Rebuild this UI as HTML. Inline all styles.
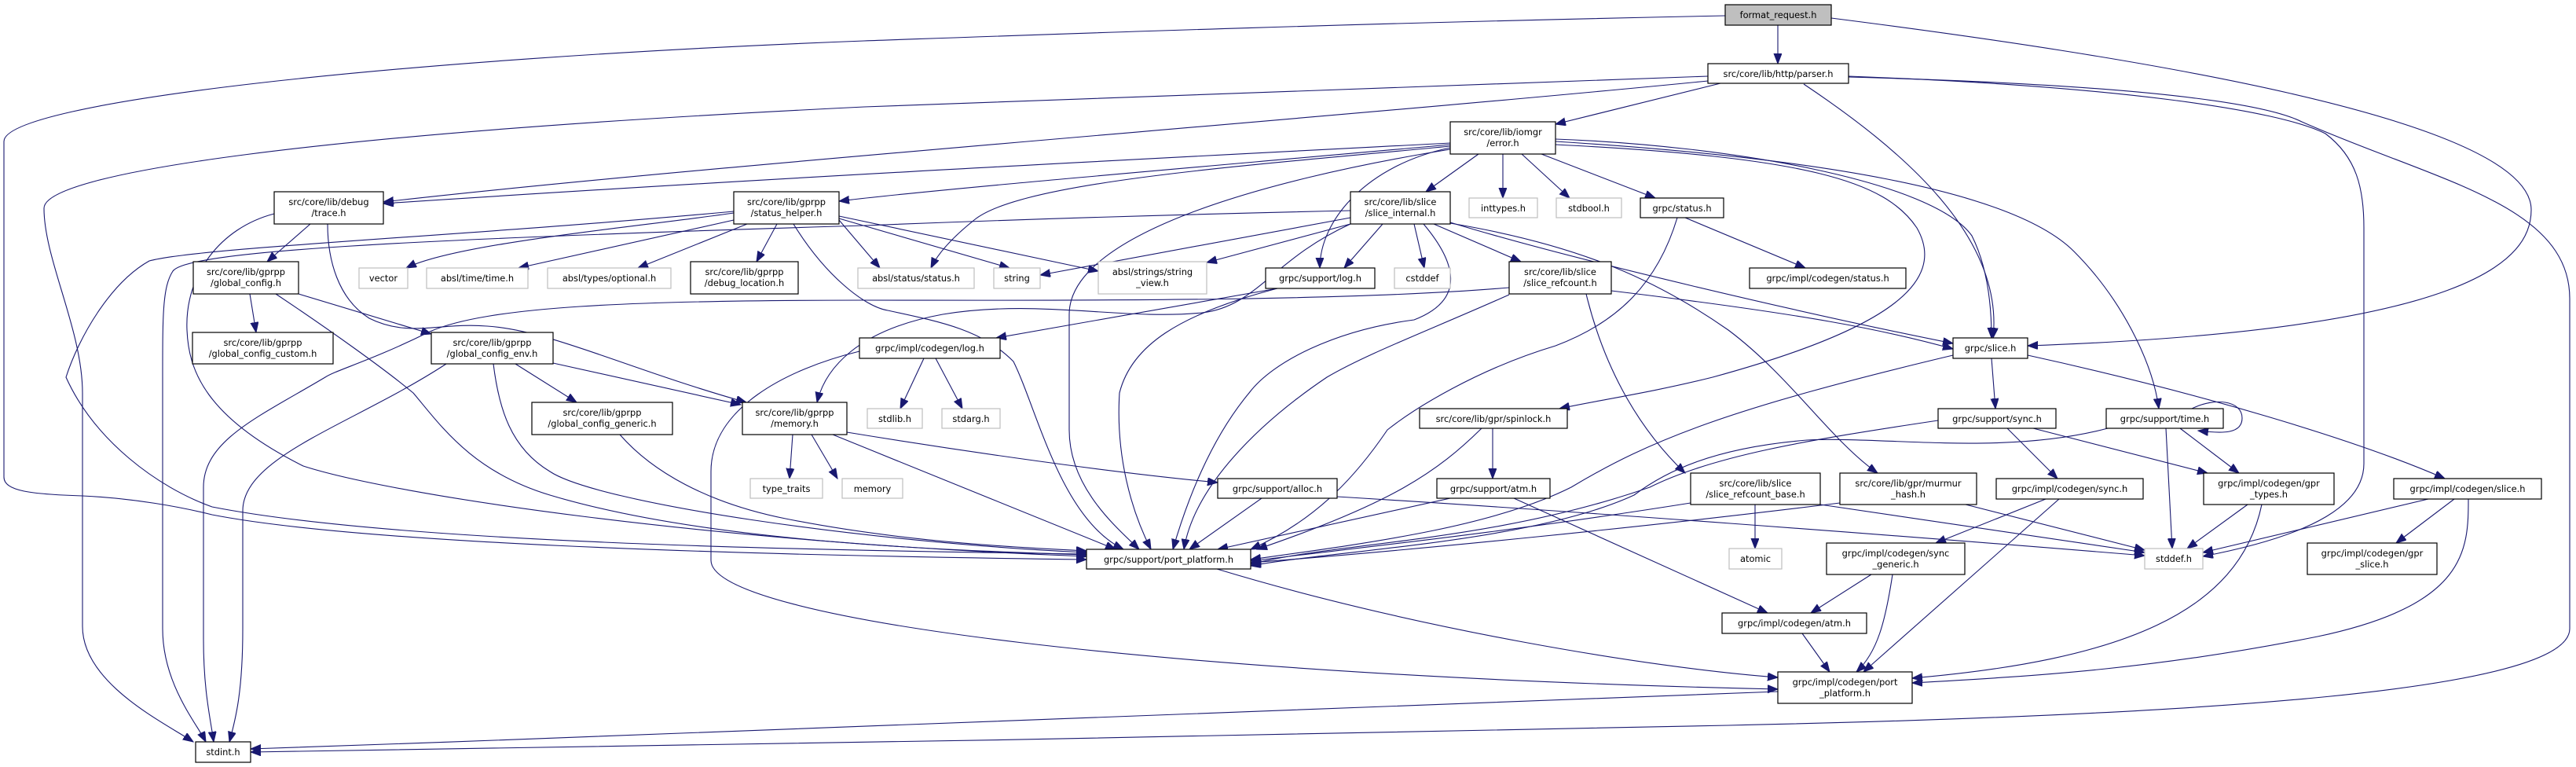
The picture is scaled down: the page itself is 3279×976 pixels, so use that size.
<!DOCTYPE html>
<html><head><meta charset="utf-8"><style>
html,body{margin:0;padding:0;background:#fff;}
svg{display:block;}
text{font-family:"DejaVu Sans","Liberation Sans",sans-serif;font-size:11.4px;fill:#000;text-anchor:middle;}
.n{fill:#fff;stroke:#000;stroke-width:1.2;}
.g{fill:#fff;stroke:#bfbfbf;stroke-width:1.2;}
.e{fill:none;stroke:#191970;stroke-width:1.1;marker-end:url(#a);}
</style></head><body>
<svg width="3279" height="976" viewBox="0 0 3279 976" xmlns="http://www.w3.org/2000/svg">
<defs><marker id="a" markerUnits="userSpaceOnUse" markerWidth="14" markerHeight="11" refX="13" refY="5" orient="auto"><path d="M0,0 L13,5 L0,10 Z" fill="#191970" stroke="#191970"/></marker></defs>
<g>
<path class="e" d="M2263,32 L2263,81"/>
<path class="e" d="M2196,20 C1700,30 1300,45 1100,52 C500,75 5,130 5,180 L5,607 C5,625 40,629 105,631 C170,634 230,645 270,655 C450,690 900,706 1383,712"/>
<path class="e" d="M2331,23 C2700,70 3222,150 3222,267 C3222,330 3150,420 2581,440"/>
<path class="e" d="M2190,106 L1980,158"/>
<path class="e" d="M2174,103 C1700,150 900,210 488,257"/>
<path class="e" d="M2174,97 C1600,115 1200,130 1100,136 C400,170 56,220 56,265 C56,330 105,420 105,500 L105,797 C105,870 210,920 246,944"/>
<path class="e" d="M2296,107 C2420,190 2551,300 2537,430"/>
<path class="e" d="M2353,97 C2700,110 2900,140 2960,170 C3000,200 3009,240 3009,290 L3009,590 C3009,640 2950,680 2804,708"/>
<path class="e" d="M2353,98 C2800,110 2900,140 2930,155 C3100,230 3271,260 3271,380 L3271,800 C3271,880 2800,910 2200,923 C1700,935 800,950 319,957"/>
<path class="e" d="M1846,182 C1500,200 1000,225 488,259"/>
<path class="e" d="M1846,184 C1500,215 1200,240 1068,256"/>
<path class="e" d="M1846,186 C1600,210 1300,230 1240,280 C1215,300 1195,320 1185,341"/>
<path class="e" d="M1846,190 C1600,230 1361,300 1361,400 L1361,547 C1361,620 1420,670 1450,699"/>
<path class="e" d="M1846,188 C1740,210 1680,280 1680,341"/>
<path class="e" d="M1882,196 L1815,244"/>
<path class="e" d="M1913,196 L1913,252"/>
<path class="e" d="M1937,196 L1998,252"/>
<path class="e" d="M1962,196 L2107,252"/>
<path class="e" d="M1980,177 C2200,185 2460,230 2510,300 C2530,340 2535,390 2535,430"/>
<path class="e" d="M1980,180 C2300,200 2560,240 2640,320 C2700,380 2740,460 2748,520"/>
<path class="e" d="M1980,184 C2300,200 2400,230 2440,290 C2480,360 2400,420 2180,480 C2100,500 2030,510 1985,520"/>
<path class="e" d="M1719,268 C1400,275 1150,285 1100,287 C500,305 238,320 220,345 C207,365 207,400 207,480 L207,800 C207,870 250,920 262,944"/>
<path class="e" d="M1719,277 L1324,350"/>
<path class="e" d="M1719,285 L1536,334"/>
<path class="e" d="M1760,285 L1711,341"/>
<path class="e" d="M1800,285 L1813,341"/>
<path class="e" d="M1825,285 L1936,333"/>
<path class="e" d="M1846,283 C2000,330 2300,400 2486,437"/>
<path class="e" d="M1846,284 C2000,310 2100,350 2200,420 C2280,480 2330,560 2390,602"/>
<path class="e" d="M1812,285 C1850,330 1870,380 1800,407 C1700,420 1620,460 1590,500 C1540,560 1510,640 1493,699"/>
<path class="e" d="M1719,285 C1620,330 1600,390 1530,398 C1430,408 1320,380 1200,400 C1090,420 1050,470 1040,512"/>
<path class="e" d="M934,271 C800,290 580,310 517,341"/>
<path class="e" d="M934,280 L660,341"/>
<path class="e" d="M951,285 L812,341"/>
<path class="e" d="M989,285 L963,333"/>
<path class="e" d="M1068,280 L1120,341"/>
<path class="e" d="M1068,278 L1285,341"/>
<path class="e" d="M1068,275 L1398,345"/>
<path class="e" d="M1010,285 C1050,350 1100,390 1130,395 C1200,410 1250,420 1290,460 C1320,520 1350,660 1430,699"/>
<path class="e" d="M934,269 C600,300 250,315 190,332 C140,360 100,430 84,480 C120,560 200,620 270,645 C500,690 1000,700 1383,705"/>
<path class="e" d="M395,285 L340,333"/>
<path class="e" d="M417,285 C417,330 430,380 470,405 C520,430 560,410 620,415 C700,420 800,470 950,512"/>
<path class="e" d="M349,272 C280,290 235,350 238,420 C240,470 260,530 386,593 C500,630 900,690 1383,708"/>
<path class="e" d="M380,374 L549,425"/>
<path class="e" d="M318,374 L326,423"/>
<path class="e" d="M351,374 C420,420 490,470 526,500 C560,540 600,600 700,630 C900,690 1200,700 1383,706"/>
<path class="e" d="M704,462 L943,515"/>
<path class="e" d="M656,463 L734,512"/>
<path class="e" d="M628,463 C635,520 650,570 700,600 C760,640 1100,690 1383,703"/>
<path class="e" d="M568,463 C450,540 309,580 309,650 L309,800 C309,880 300,915 292,944"/>
<path class="e" d="M789,553 C830,600 900,640 1000,660 C1150,690 1300,697 1383,701"/>
<path class="e" d="M1009,553 L1005,609"/>
<path class="e" d="M1033,553 L1066,609"/>
<path class="e" d="M1078,550 C1200,570 1400,600 1550,614"/>
<path class="e" d="M1060,553 C1200,610 1350,670 1420,699"/>
<path class="e" d="M1921,366 C1700,385 1300,382 1100,382 C800,382 620,390 547,422 C470,460 430,470 414,480 C330,530 259,560 259,620 L259,813 C259,880 268,915 272,944"/>
<path class="e" d="M2051,370 C2300,400 2400,420 2486,444"/>
<path class="e" d="M2019,374 C2040,460 2080,540 2145,602"/>
<path class="e" d="M1921,375 C1820,420 1740,450 1689,480 C1600,540 1520,620 1507,699"/>
<path class="e" d="M2145,277 L2298,341"/>
<path class="e" d="M2135,277 C2110,360 2060,410 1980,440 C1880,470 1800,520 1766,547 C1730,600 1680,660 1592,699"/>
<path class="e" d="M1626,367 L1268,430"/>
<path class="e" d="M1626,367 C1500,400 1440,440 1425,500 C1420,580 1440,650 1465,699"/>
<path class="e" d="M1176,456 L1146,520"/>
<path class="e" d="M1191,456 L1225,520"/>
<path class="e" d="M1094,447 C1000,470 905,520 905,600 L905,713 C905,790 1500,860 2263,877"/>
<path class="e" d="M1886,545 C1830,600 1773,640 1600,699"/>
<path class="e" d="M1900,545 L1900,609"/>
<path class="e" d="M1606,634 L1514,699"/>
<path class="e" d="M1702,632 C2000,650 2400,680 2730,707"/>
<path class="e" d="M1846,634 L1550,699"/>
<path class="e" d="M1927,634 L2250,780"/>
<path class="e" d="M2486,452 C2200,520 2100,560 2000,620 C1900,670 1750,690 1592,712"/>
<path class="e" d="M2535,456 L2540,520"/>
<path class="e" d="M2581,452 C2800,500 3000,560 3112,609"/>
<path class="e" d="M2152,640 C1900,680 1700,700 1592,714"/>
<path class="e" d="M2234,642 L2234,698"/>
<path class="e" d="M2317,642 L2730,703"/>
<path class="e" d="M2342,640 C2100,670 1800,700 1592,716"/>
<path class="e" d="M2502,642 L2730,700"/>
<path class="e" d="M2467,535 C2300,560 2180,580 2100,620 C1900,690 1700,690 1592,718"/>
<path class="e" d="M2555,545 L2619,609"/>
<path class="e" d="M2588,545 L2810,602"/>
<path class="e" d="M2683,545 C2550,580 2400,555 2300,560 C2180,570 2120,600 2080,630 C1950,690 1700,700 1592,720"/>
<path class="e" d="M2757,545 L2765,698"/>
<path class="e" d="M2775,545 L2850,602"/>
<path class="e" d="M2790,520 C2820,505 2854,510 2854,532 C2854,552 2830,552 2798,548"/>
<path class="e" d="M2604,635 L2464,691"/>
<path class="e" d="M2621,635 L2372,855"/>
<path class="e" d="M2861,642 L2784,698"/>
<path class="e" d="M2879,642 C2850,780 2700,840 2434,863"/>
<path class="e" d="M3091,635 L2804,703"/>
<path class="e" d="M3124,635 L3050,691"/>
<path class="e" d="M3142,635 C3142,700 3140,770 2950,810 C2750,850 2600,860 2434,869"/>
<path class="e" d="M2382,731 L2305,780"/>
<path class="e" d="M2409,731 C2400,790 2390,830 2363,855"/>
<path class="e" d="M2294,806 L2329,855"/>
<path class="e" d="M1549,724 C1800,800 2100,850 2263,862"/>
<path class="e" d="M2263,880 C1700,900 1000,930 319,953"/>
</g>
<g>
<rect x="2196" y="6" width="135" height="26" fill="#bfbfbf" stroke="#000" stroke-width="1.2"/><text x="2263.5" y="23">format_request.h</text>
<rect class="n" x="2174" y="81" width="179" height="25"/><text x="2263.5" y="98">src/core/lib/http/parser.h</text>
<rect class="n" x="1846" y="155" width="134" height="41"/><text x="1913" y="172">src/core/lib/iomgr</text><text x="1913" y="186">/error.h</text>
<rect class="n" x="349" y="244" width="139" height="41"/><text x="418.5" y="261">src/core/lib/debug</text><text x="418.5" y="275">/trace.h</text>
<rect class="n" x="934" y="244" width="134" height="41"/><text x="1001" y="261">src/core/lib/gprpp</text><text x="1001" y="275">/status_helper.h</text>
<rect class="n" x="1719" y="244" width="127" height="41"/><text x="1782.5" y="261">src/core/lib/slice</text><text x="1782.5" y="275">/slice_internal.h</text>
<rect class="g" x="1870" y="252" width="87" height="25"/><text x="1913.5" y="269">inttypes.h</text>
<rect class="g" x="1981" y="252" width="83" height="25"/><text x="2022.5" y="269">stdbool.h</text>
<rect class="n" x="2088" y="252" width="106" height="25"/><text x="2141" y="269">grpc/status.h</text>
<rect class="g" x="1092" y="341" width="148" height="26"/><text x="1166" y="358">absl/status/status.h</text>
<rect class="g" x="1265" y="341" width="59" height="26"/><text x="1294.5" y="358">string</text>
<rect class="g" x="1398" y="333" width="138" height="41"/><text x="1467" y="350">absl/strings/string</text><text x="1467" y="364">_view.h</text>
<rect class="n" x="1611" y="341" width="139" height="26"/><text x="1680.5" y="358">grpc/support/log.h</text>
<rect class="g" x="1775" y="341" width="71" height="26"/><text x="1810.5" y="358">cstddef</text>
<rect class="n" x="1921" y="333" width="130" height="41"/><text x="1986" y="350">src/core/lib/slice</text><text x="1986" y="364">/slice_refcount.h</text>
<rect class="n" x="1094" y="430" width="179" height="26"/><text x="1183.5" y="447">grpc/impl/codegen/log.h</text>
<rect class="n" x="2227" y="341" width="199" height="26"/><text x="2326.5" y="358">grpc/impl/codegen/status.h</text>
<rect class="n" x="2486" y="430" width="95" height="26"/><text x="2533.5" y="447">grpc/slice.h</text>
<rect class="g" x="457" y="341" width="62" height="26"/><text x="488" y="358">vector</text>
<rect class="g" x="543" y="341" width="129" height="26"/><text x="607.5" y="358">absl/time/time.h</text>
<rect class="g" x="697" y="341" width="157" height="26"/><text x="775.5" y="358">absl/types/optional.h</text>
<rect class="n" x="879" y="333" width="137" height="41"/><text x="947.5" y="350">src/core/lib/gprpp</text><text x="947.5" y="364">/debug_location.h</text>
<rect class="n" x="246" y="333" width="134" height="41"/><text x="313" y="350">src/core/lib/gprpp</text><text x="313" y="364">/global_config.h</text>
<rect class="n" x="245" y="423" width="179" height="40"/><text x="334.5" y="440">src/core/lib/gprpp</text><text x="334.5" y="454">/global_config_custom.h</text>
<rect class="n" x="549" y="423" width="155" height="40"/><text x="626.5" y="440">src/core/lib/gprpp</text><text x="626.5" y="454">/global_config_env.h</text>
<rect class="n" x="677" y="512" width="179" height="41"/><text x="766.5" y="529">src/core/lib/gprpp</text><text x="766.5" y="543">/global_config_generic.h</text>
<rect class="n" x="945" y="512" width="133" height="41"/><text x="1011.5" y="529">src/core/lib/gprpp</text><text x="1011.5" y="543">/memory.h</text>
<rect class="g" x="955" y="609" width="92" height="25"/><text x="1001" y="626">type_traits</text>
<rect class="g" x="1072" y="609" width="77" height="25"/><text x="1110.5" y="626">memory</text>
<rect class="n" x="249" y="944" width="70" height="26"/><text x="284" y="961">stdint.h</text>
<rect class="g" x="1104" y="520" width="70" height="25"/><text x="1139" y="537">stdlib.h</text>
<rect class="g" x="1199" y="520" width="74" height="25"/><text x="1236" y="537">stdarg.h</text>
<rect class="n" x="1807" y="520" width="188" height="25"/><text x="1901" y="537">src/core/lib/gpr/spinlock.h</text>
<rect class="n" x="1550" y="609" width="152" height="25"/><text x="1626" y="626">grpc/support/alloc.h</text>
<rect class="n" x="1829" y="609" width="144" height="25"/><text x="1901" y="626">grpc/support/atm.h</text>
<rect class="n" x="1383" y="699" width="209" height="25"/><text x="1487.5" y="716">grpc/support/port_platform.h</text>
<rect class="n" x="2152" y="602" width="165" height="40"/><text x="2234.5" y="619">src/core/lib/slice</text><text x="2234.5" y="633">/slice_refcount_base.h</text>
<rect class="n" x="2342" y="602" width="174" height="40"/><text x="2429" y="619">src/core/lib/gpr/murmur</text><text x="2429" y="633">_hash.h</text>
<rect class="n" x="2541" y="609" width="187" height="26"/><text x="2634.5" y="626">grpc/impl/codegen/sync.h</text>
<rect class="n" x="2805" y="602" width="166" height="40"/><text x="2888" y="619">grpc/impl/codegen/gpr</text><text x="2888" y="633">_types.h</text>
<rect class="n" x="3047" y="609" width="188" height="26"/><text x="3141" y="626">grpc/impl/codegen/slice.h</text>
<rect class="g" x="2201" y="698" width="67" height="26"/><text x="2234.5" y="715">atomic</text>
<rect class="n" x="2325" y="691" width="176" height="40"/><text x="2413" y="708">grpc/impl/codegen/sync</text><text x="2413" y="722">_generic.h</text>
<rect class="g" x="2730" y="698" width="74" height="26"/><text x="2767" y="715">stddef.h</text>
<rect class="n" x="2937" y="691" width="165" height="40"/><text x="3019.5" y="708">grpc/impl/codegen/gpr</text><text x="3019.5" y="722">_slice.h</text>
<rect class="n" x="2192" y="780" width="184" height="26"/><text x="2284" y="797">grpc/impl/codegen/atm.h</text>
<rect class="n" x="2263" y="855" width="171" height="40"/><text x="2348.5" y="872">grpc/impl/codegen/port</text><text x="2348.5" y="886">_platform.h</text>
<rect class="n" x="2467" y="520" width="150" height="25"/><text x="2542" y="537">grpc/support/sync.h</text>
<rect class="n" x="2681" y="520" width="149" height="25"/><text x="2755.5" y="537">grpc/support/time.h</text>
</g>
</svg>
</body></html>
